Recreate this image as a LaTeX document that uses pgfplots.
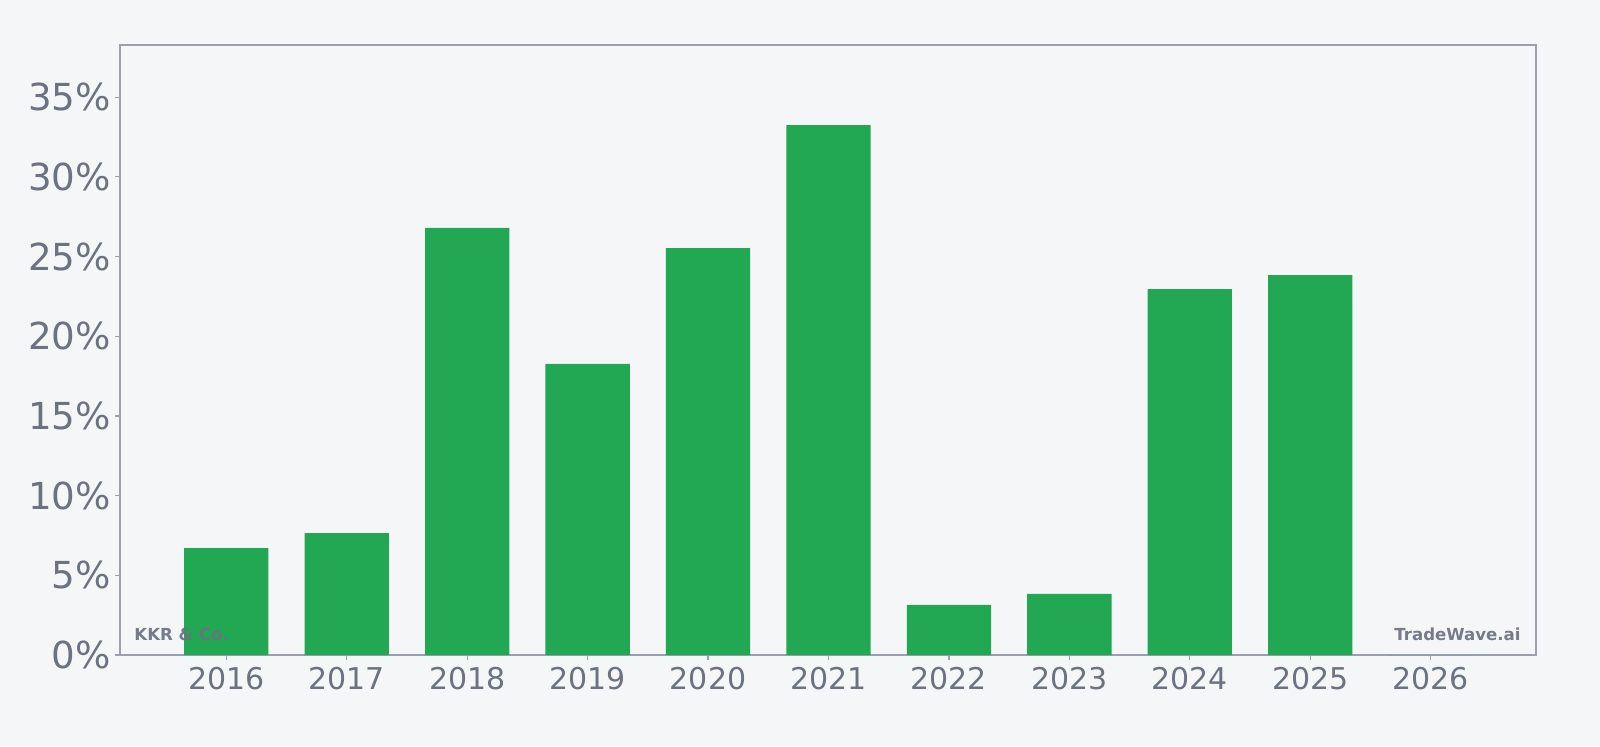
\documentclass[border=0pt]{standalone}
\usepackage{pgfplots}
\pgfplotsset{compat=1.18}
\usepackage{fontspec}
\setmainfont{DejaVu Sans}
\definecolor{bgc}{HTML}{F4F6F8}
\definecolor{barc}{HTML}{22A753}
\definecolor{txtc}{HTML}{6B7280}
\definecolor{axc}{HTML}{9CA0AC}
\begin{document}
\begin{tikzpicture}
\fill[bgc,use as bounding box] (-60pt,-45.5pt) rectangle (740pt,327.5pt);
\begin{axis}[
    at={(0,0)}, anchor=south west,
    scale only axis,
    width=708pt, height=305pt,
    xmin=-0.883, xmax=10.875,
    ymin=0, ymax=38.27,
    axis line style={axc, line width=1pt},
    tick style={axc, line width=0.6pt},
    major tick length=2.5pt,
    tick align=outside,
    xtick pos=bottom, ytick pos=left,
    xtick={0,1,2,3,4,5,6,7,8,9,10},
    xticklabels={2016,2017,2018,2019,2020,2021,2022,2023,2024,2025,2026},
    ytick={0,5,10,15,20,25,30,35},
    yticklabel={\pgfmathprintnumber{\tick}\%},
    /pgf/number format/assume math mode=true,
    xticklabel style={font=\fontsize{15pt}{18pt}\selectfont, text=txtc},
    yticklabel style={font=\fontsize{18.6pt}{22pt}\selectfont, text=txtc, xshift=1.5pt},
    ybar, bar width=0.7,
    axis background/.style={fill=bgc},
    clip=false,
]
\addplot[fill=barc, draw=none] coordinates {
    (0,6.71) (1,7.65) (2,26.79) (3,18.26) (4,25.53)
    (5,33.25) (6,3.14) (7,3.83) (8,22.96) (9,23.84) (10,0)
};
\node[anchor=base west, text=txtc, opacity=0.92, font=\bfseries\fontsize{8.3pt}{10pt}\selectfont, inner sep=0pt]
    at ([xshift=7pt, yshift=7.5pt]rel axis cs:0,0) {KKR \& Co.};
\node[anchor=base east, text=txtc, opacity=0.92, font=\bfseries\fontsize{8.3pt}{10pt}\selectfont, inner sep=0pt]
    at ([xshift=-7.5pt, yshift=7.5pt]rel axis cs:1,0) {TradeWave.ai};
\end{axis}
\end{tikzpicture}
\end{document}
